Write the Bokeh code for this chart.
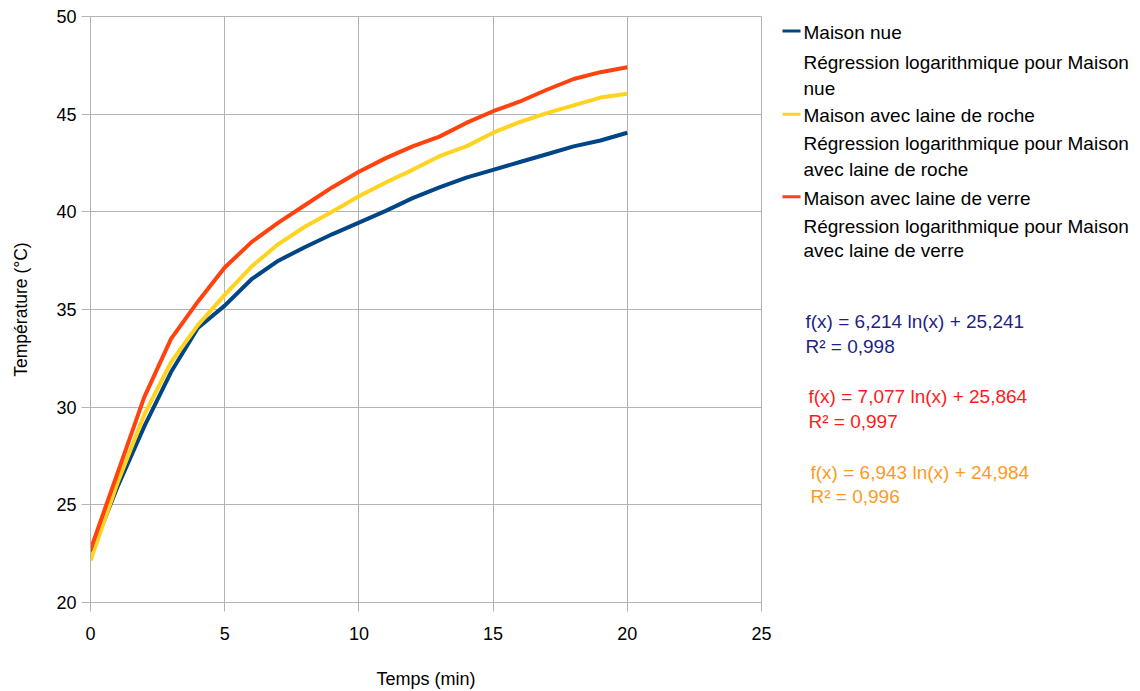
from bokeh.plotting import figure
from bokeh.layouts import row
from bokeh.models import Range1d, FixedTicker
from bokeh.core.properties import value
from bokeh.embed import file_html
from bokeh.resources import INLINE

# ---- data ----
temps = list(range(0, 21))
maison_nue = [22.45, 25.9, 29.0, 31.8, 34.05, 35.2, 36.55, 37.5, 38.2, 38.85, 39.45,
              40.05, 40.7, 41.25, 41.75, 42.15, 42.55, 42.95, 43.35, 43.65, 44.05]
laine_roche = [22.15, 26.1, 29.6, 32.3, 34.2, 35.75, 37.2, 38.35, 39.25, 40.0, 40.8,
               41.5, 42.15, 42.85, 43.35, 44.05, 44.6, 45.05, 45.45, 45.85, 46.05]
laine_verre = [22.7, 26.6, 30.5, 33.5, 35.4, 37.15, 38.45, 39.45, 40.35, 41.25, 42.05,
               42.75, 43.35, 43.85, 44.55, 45.15, 45.65, 46.25, 46.8, 47.15, 47.4]
x_ticks = [0, 5, 10, 15, 20, 25]
y_ticks = [20, 25, 30, 35, 40, 45, 50]

legend_labels = ["Maison nue",
                 "Régression logarithmique pour Maison", "nue",
                 "Maison avec laine de roche",
                 "Régression logarithmique pour Maison", "avec laine de roche",
                 "Maison avec laine de verre",
                 "Régression logarithmique pour Maison", "avec laine de verre"]
equations = ["f(x) = 6,214 ln(x) + 25,241", "R² = 0,998",
             "f(x) = 7,077 ln(x) + 25,864", "R² = 0,997",
             "f(x) = 6,943 ln(x) + 24,984", "R² = 0,996"]

C_BLUE = "#004586"
C_YELLOW = "#ffd320"
C_RED = "#ff420e"
GRID = "#b3b3b3"
FONT = "Liberation Sans"
H = 691
TOP = 16
BOTTOM = 88

p = figure(width=778, height=H, output_backend="svg", toolbar_location=None,
           x_range=Range1d(0, 25), y_range=Range1d(20, 50),
           min_border_left=90, min_border_right=17, min_border_top=TOP, min_border_bottom=BOTTOM)
p.outline_line_color = GRID
p.outline_line_width = 1
for ax in (p.xaxis[0], p.yaxis[0]):
    ax.axis_line_color = GRID
    ax.major_tick_line_color = GRID
    ax.minor_tick_line_color = None
    ax.major_tick_out = 9
    ax.major_tick_in = 0
    ax.major_label_text_font = FONT
    ax.major_label_text_font_size = "18px"
    ax.major_label_text_color = "#000000"
    ax.axis_label_text_font = FONT
    ax.axis_label_text_font_style = "normal"
    ax.axis_label_text_color = "#000000"
p.xaxis.ticker = FixedTicker(ticks=x_ticks)
p.yaxis.ticker = FixedTicker(ticks=y_ticks)
p.xaxis.axis_label = "Temps (min)"
p.yaxis.axis_label = "Température (°C)"
p.xaxis.axis_label_text_font_size = "18px"
p.yaxis.axis_label_text_font_size = "17.5px"
p.xaxis.major_label_standoff = 15
p.yaxis.major_label_standoff = 5
p.xaxis.axis_label_standoff = 26
p.yaxis.axis_label_standoff = 22
p.xgrid.ticker = FixedTicker(ticks=x_ticks)
p.ygrid.ticker = FixedTicker(ticks=y_ticks)
p.xgrid.grid_line_color = GRID
p.ygrid.grid_line_color = GRID

p.line(temps, maison_nue, line_color=C_BLUE, line_width=4)
p.line(temps, laine_roche, line_color=C_YELLOW, line_width=4)
p.line(temps, laine_verre, line_color=C_RED, line_width=4)

# ---- legend / equation panel (coordinates = page pixels) ----
W2 = 354
q = figure(width=W2, height=H, output_backend="svg", toolbar_location=None,
           x_range=Range1d(0, W2), y_range=Range1d(H - BOTTOM, TOP),
           min_border_left=0, min_border_right=0,
           min_border_top=TOP, min_border_bottom=BOTTOM)
q.axis.visible = False
q.grid.visible = False
q.outline_line_color = None

leg_y = [32.5, 62.5, 88, 115, 143.5, 169, 198, 226.5, 250.5]
q.text(x=[25] * len(legend_labels), y=leg_y, text=legend_labels,
       text_font=value(FONT), text_font_size="19px", text_color="#000000",
       text_baseline="middle", text_align="left")
q.segment(x0=[4, 4, 4], y0=[30.5, 114, 196.5], x1=[22, 22, 22], y1=[30.5, 114, 196.5],
          line_color=[C_BLUE, C_YELLOW, C_RED], line_width=3)

eq_x = [27, 27, 30, 30, 32, 32]
eq_y = [322, 347, 397, 422, 473, 497]
eq_c = ["#1f1f86", "#1f1f86", "#ff1a1a", "#ff1a1a", "#ff9a1e", "#ff9a1e"]
q.text(x=eq_x, y=eq_y, text=equations, text_color=eq_c,
       text_font=value(FONT), text_font_size="19px",
       text_baseline="middle", text_align="left")

layout = row(p, q)
open("out.html", "w").write(file_html(layout, INLINE))
